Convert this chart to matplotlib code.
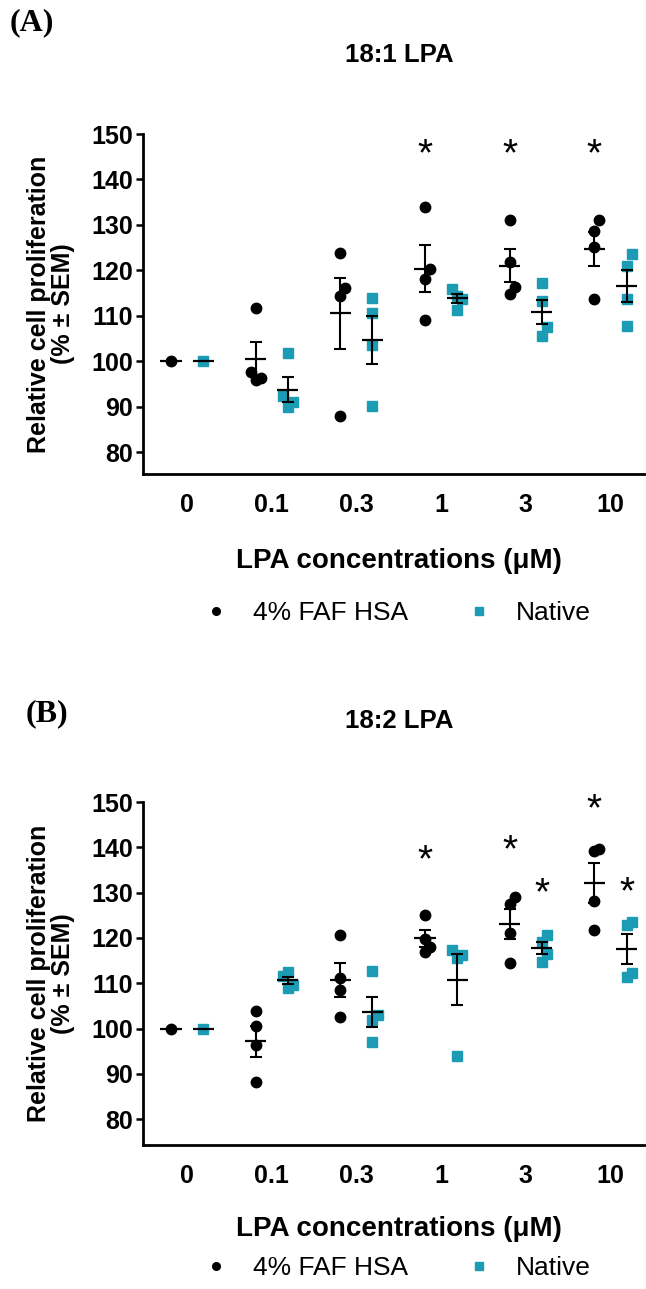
import numpy as np
import matplotlib.pyplot as plt
from matplotlib import font_manager
from matplotlib.lines import Line2D

# x categories (LPA concentrations, uM)
conc_labels = ['0', '0.1', '0.3', '1', '3', '10']

# (A) 18:1 LPA - relative proliferation (%) per replicate
faf_181 = [[100.0],
           [111.8, 97.7, 96.4, 95.9],
           [123.8, 116.1, 114.4, 88.0],
           [133.9, 120.4, 118.2, 109.1],
           [131.0, 121.8, 116.4, 114.8],
           [131.0, 128.7, 125.2, 113.8]]
nat_181 = [[100.0],
           [101.8, 92.3, 91.0, 89.9],
           [114.0, 110.6, 103.6, 90.2],
           [116.0, 114.4, 113.8, 111.3],
           [117.3, 113.2, 107.5, 105.5],
           [123.6, 121.0, 113.8, 107.8]]
# significance marks: (group index, series, height)
stars_181 = [(3, 'faf', 148.0), (4, 'faf', 148.0), (5, 'faf', 148.0)]

# (B) 18:2 LPA
faf_182 = [[100.0],
           [103.9, 100.5, 96.3, 88.1],
           [120.6, 111.2, 108.6, 102.5],
           [125.1, 119.7, 118.0, 116.8],
           [129.0, 127.4, 121.1, 114.5],
           [139.6, 139.1, 128.1, 121.7]]
nat_182 = [[100.0],
           [111.6, 112.4, 109.6, 109.0],
           [112.7, 102.9, 101.8, 97.0],
           [117.4, 116.3, 115.6, 94.0],
           [120.6, 119.1, 116.5, 114.7],
           [123.5, 122.9, 112.3, 111.4]]
stars_182 = [(3, 'faf', 139.7), (4, 'faf', 141.8), (4, 'nat', 132.3),
             (5, 'faf', 151.0), (5, 'nat', 132.6)]

TEAL = '#1c9bb5'
W, H = 646, 1289

names = {f.name for f in font_manager.fontManager.ttflist}
NARROW = 'Liberation Sans Narrow' if 'Liberation Sans Narrow' in names else 'Liberation Sans'
plt.rcParams['font.family'] = ['Liberation Sans', 'DejaVu Sans']


def fx(px):
    return px / W


def fy(py):
    return 1 - py / H


def swarm(vals, gap=2.6, step=0.06):
    # spread points that sit on top of each other
    offs = [0.0] * len(vals)
    order = sorted(range(len(vals)), key=lambda i: vals[i])
    placed = []
    for i in order:
        o = 0.0
        for k in [0, 1, -1, 2, -2]:
            o = k * step
            if all(abs(vals[i] - vals[j]) > gap or abs(o - offs[j]) > step * 0.9 for j in placed):
                break
        offs[i] = o
        placed.append(i)
    return offs


def draw_panel(ax, faf, nat, stars, ylim):
    shift = {'faf': -0.19, 'nat': 0.19}
    for key, data, marker, color, ms in [('faf', faf, 'o', 'black', 7.5),
                                         ('nat', nat, 's', TEAL, 7.0)]:
        for i, vals in enumerate(data):
            xc = i + shift[key]
            offs = swarm(vals)
            ax.plot([xc + o for o in offs], vals, ls='none', marker=marker,
                    ms=ms, color=color, mec=color, zorder=2)
            m = np.mean(vals)
            sem = np.std(vals, ddof=1) / np.sqrt(len(vals)) if len(vals) > 1 else 0
            ax.hlines(m, xc - 0.125, xc + 0.125, color='black', lw=1.6, zorder=3)
            if sem > 0:
                ax.errorbar(xc, m, yerr=sem, fmt='none', ecolor='black',
                            elinewidth=1.5, capsize=4.3, capthick=1.5, zorder=3)
    fs = 28
    for i, key, yv in stars:
        ax.annotate('*', xy=(i + shift[key], yv), xytext=(0, -0.575 * fs),
                    textcoords='offset points', ha='center', va='baseline',
                    fontsize=fs, annotation_clip=False)

    ax.set_xlim(-0.52, 5.42)
    ax.set_ylim(*ylim)
    ax.set_yticks(range(80, 151, 10))
    ax.set_xticks(range(len(conc_labels)))
    ax.set_xticklabels(conc_labels)
    for s in ['top', 'right']:
        ax.spines[s].set_visible(False)
    ax.spines['left'].set_bounds(ylim[0], 150)
    for s in ['left', 'bottom']:
        ax.spines[s].set_linewidth(2.0)
    ax.tick_params(axis='y', length=5, width=1.8, labelsize=18, pad=2)
    ax.tick_params(axis='x', length=0, labelsize=18, pad=14)
    for lab in ax.get_xticklabels() + ax.get_yticklabels():
        lab.set_fontweight('bold')


fig = plt.figure(figsize=(W / 100, H / 100), dpi=100)

panels = [
    # letter, title, faf, nat, stars, ylim, top px, bottom px, letter pos, title y, xlabel y, legend y
    ('(A)', '18:1 LPA', faf_181, nat_181, stars_181, (75.2, 150), 134, 474, (10, 23), 55, 561, 613),
    ('(B)', '18:2 LPA', faf_182, nat_182, stars_182, (74.3, 150), 802, 1145, (26, 714), 721, 1229, 1268),
]

for letter, title, faf, nat, stars, ylim, top, bot, lpos, ty, xly, lgy in panels:
    ax = fig.add_axes([fx(143), fy(bot), fx(W - 143), (bot - top) / H])
    draw_panel(ax, faf, nat, stars, ylim)
    fig.text(fx(lpos[0]), fy(lpos[1]), letter, family='Liberation Serif',
             fontweight='bold', fontsize=23, ha='left', va='center')
    fig.text(fx(399), fy(ty), title, fontweight='bold', fontsize=18.5,
             family=NARROW, ha='center', va='center')
    fig.text(fx(51), fy((top + bot) / 2), 'Relative cell proliferation\n(% \u00b1 SEM)',
             rotation=90, ha='center', va='center', multialignment='center',
             fontweight='bold', fontsize=18, linespacing=0.95)
    fig.text(fx(399), fy(xly), 'LPA concentrations (\u03bcM)', fontweight='bold',
             fontsize=20, ha='center', va='center')
    handles = [Line2D([], [], ls='none', marker='o', ms=5.5, color='black'),
               Line2D([], [], ls='none', marker='s', ms=5.5, color=TEAL)]
    fig.legend(handles, ['4% FAF HSA', 'Native'], loc='center',
               bbox_to_anchor=(fx(397), fy(lgy)), ncol=2, frameon=False,
               handlelength=1.0, handletextpad=0.9, columnspacing=2.2,
               prop={'family': NARROW, 'size': 19})

fig.savefig('out.png', dpi=100)
